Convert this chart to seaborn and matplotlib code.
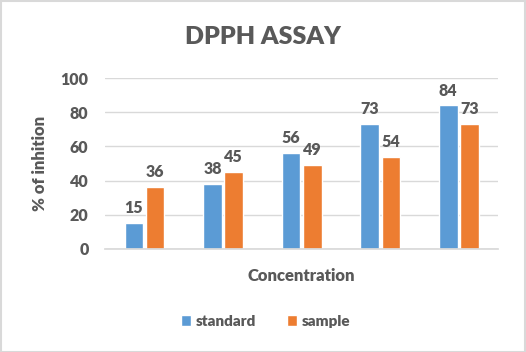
import matplotlib
matplotlib.use("Agg")
import matplotlib.pyplot as plt
import seaborn as sns
import pandas as pd
from matplotlib.patches import Rectangle

categories = ["1", "2", "3", "4", "5"]
standard = [15, 38, 56, 73, 84]
sample = [36, 45, 49, 54, 73]
series_names = ["standard", "sample"]
colors = ["#5B9BD5", "#ED7D31"]
text_color = "#595959"

df = pd.DataFrame({
    "Concentration": categories * 2,
    "value": standard + sample,
    "series": [series_names[0]] * len(categories) + [series_names[1]] * len(categories),
})

sns.set_theme(style="white")
plt.rcParams["font.family"] = ["Lato", "DejaVu Sans"]

fig = plt.figure(figsize=(5.26, 3.52), dpi=100)
ax = fig.add_axes([0.2, 0.293, 0.747, 0.485])

sns.barplot(data=df, x="Concentration", y="value", hue="series",
            palette=colors, width=0.54, gap=0.12, ax=ax, legend=True,
            saturation=1)

for cont in ax.containers:
    ax.bar_label(cont, padding=5, fontsize=11.5, fontweight="heavy", color=text_color)

ax.set_ylim(0, 100)
ax.set_yticks([0, 20, 40, 60, 80, 100])
ax.yaxis.grid(True, color="#D9D9D9", linewidth=1)
ax.set_axisbelow(True)
for s in ["top", "right", "left"]:
    ax.spines[s].set_visible(False)
ax.spines["bottom"].set_color("#D9D9D9")
ax.set_xticks(range(len(categories)))
ax.set_xticklabels([""] * len(categories))
ax.tick_params(axis="both", length=0, labelsize=11.5, labelcolor=text_color, pad=12)
for lbl in ax.get_yticklabels():
    lbl.set_fontweight("heavy")
ax.set_xlim(-0.5, len(categories) - 0.5)

ax.set_xlabel("Concentration", fontsize=12, fontweight="heavy", color=text_color, labelpad=2)
ax.set_ylabel("% of inhition", fontsize=12, fontweight="heavy", color=text_color, labelpad=9)

fig.text(0.5, 0.895, "DPPH ASSAY", ha="center", va="center", fontsize=18,
         fontweight="heavy", color=text_color)

handles, labels = ax.get_legend_handles_labels()
ax.legend_.remove()
leg = fig.legend(handles, labels, loc="center", bbox_to_anchor=(0.505, 0.088), ncol=2,
                 frameon=False, handlelength=0.7, handleheight=0.7, handletextpad=0.3,
                 columnspacing=2.0, prop={"size": 11, "weight": "heavy"})
for t in leg.get_texts():
    t.set_color(text_color)

fig.patches.append(Rectangle((0.001, 0.001), 0.997, 0.996, transform=fig.transFigure,
                             fill=False, edgecolor="#D9D9D9", linewidth=1.5))

fig.savefig("out.png", dpi=100)
